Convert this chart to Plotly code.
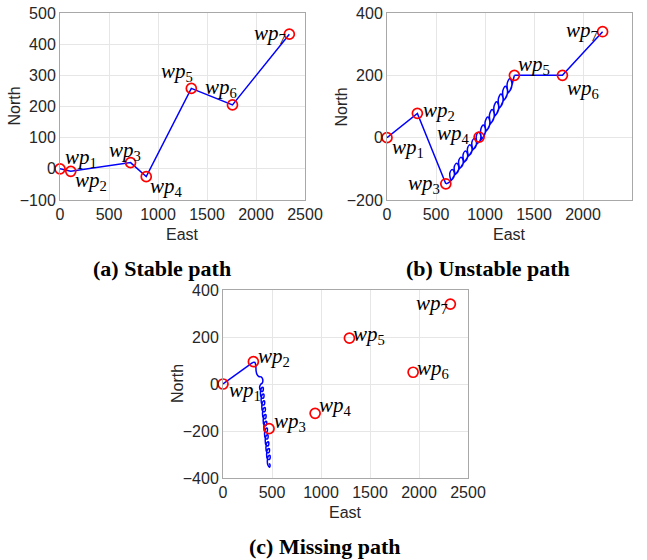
import plotly.graph_objects as go

W, H = 647, 560

# ---------------- data ----------------
# (a) Stable path
wp_a_x = [0, 110, 720, 880, 1340, 1760, 2340]
wp_a_y = [0, -8, 20, -25, 258, 205, 432]
path_a_x = [0, 110, 720, 880, 1340, 1760, 2340]
path_a_y = [0, -8, 20, -25, 258, 205, 432]

# (b) Unstable path
wp_b_x = [0, 310, 600, 940, 1300, 1790, 2200]
wp_b_y = [0, 78, -148, 2, 200, 200, 340]
path_b_start_x = [0, 310, 600]
path_b_start_y = [0, 78, -148]
path_b_loops_x = [600, 625,
                  645, 680, 685, 665, 641, 655,
                  690, 725, 730, 710, 686, 700,
                  735, 770, 775, 755, 731, 745,
                  780, 815, 820, 800, 776, 790,
                  825, 860, 865, 845, 821, 835,
                  870, 905, 910, 890, 866, 880,
                  915, 950, 955, 935, 911, 925,
                  960, 996, 1002, 982, 956, 970,
                  1005, 1041, 1047, 1027, 1001, 1015,
                  1050, 1086, 1092, 1072, 1046, 1060,
                  1095, 1131, 1137, 1117, 1091, 1105,
                  1140, 1176, 1182, 1162, 1136, 1150,
                  1185, 1221, 1227, 1207, 1181, 1195,
                  1230, 1266, 1272, 1252, 1226, 1240,
                  1272, 1288, 1300]
path_b_loops_y = [-148, -145,
                  -140, -128, -110, -102, -114, -136,
                  -120, -108, -90, -82, -94, -116,
                  -101, -89, -71, -63, -75, -97,
                  -81, -69, -51, -43, -55, -77,
                  -61, -49, -31, -23, -35, -57,
                  -41, -29, -11, -3, -15, -37,
                  -21, -9, 9, 17, 5, -17,
                  -7, 9, 31, 41, 25, -3,
                  18, 34, 56, 66, 50, 22,
                  42, 58, 80, 90, 74, 46,
                  67, 83, 105, 115, 99, 71,
                  92, 108, 130, 140, 124, 96,
                  117, 133, 155, 165, 149, 121,
                  141, 157, 179, 189, 173, 145,
                  165, 185, 200]
path_b_end_x = [1300, 1790, 2200]
path_b_end_y = [200, 200, 340]

# (c) Missing path
wp_c_x = [0, 310, 470, 940, 1290, 1940, 2320]
wp_c_y = [0, 95, -190, -125, 195, 50, 340]
path_c_start_x = [0, 150, 305]
path_c_start_y = [0, 45, 92]
path_c_coil_x = [305, 325, 335, 338, 348, 365, 390, 405, 402, 388,
                 375, 383, 407, 409, 391,
                 382, 390, 414, 416, 398,
                 389, 397, 421, 423, 405,
                 396, 404, 428, 430, 412,
                 403, 411, 435, 437, 419,
                 410, 418, 442, 444, 426,
                 417, 425, 449, 451, 433,
                 424, 432, 456, 458, 440,
                 431, 439, 463, 465, 447,
                 438, 446, 470, 472, 454,
                 445, 453, 477, 479, 461,
                 452, 460, 474, 480, 472]
path_c_coil_y = [92, 92, 75, 55, 40, 32, 30, 20, 5, 0,
                 -10, -28, -30, -14, -18,
                 -39, -57, -59, -43, -47,
                 -68, -86, -88, -72, -76,
                 -97, -115, -117, -101, -105,
                 -126, -144, -146, -130, -134,
                 -155, -173, -175, -159, -163,
                 -184, -202, -204, -188, -192,
                 -213, -231, -233, -217, -221,
                 -242, -260, -262, -246, -250,
                 -271, -289, -291, -275, -279,
                 -300, -318, -320, -304, -308,
                 -329, -347, -354, -345, -338]

wp_labels = ["1", "2", "3", "4", "5", "6", "7"]
x_ticks = [0, 500, 1000, 1500, 2000, 2500]
y_ticks_a = [-100, 0, 100, 200, 300, 400, 500]
y_ticks_b = [-200, 0, 200, 400]
y_ticks_c = [-400, -200, 0, 200, 400]
captions = ["(a) Stable path", "(b) Unstable path", "(c) Missing path"]

# ---------------- styling ----------------
BLUE = "#0000ff"
RED = "#ff0000"
SANS = "Liberation Sans, Arial, sans-serif"
TICKFONT = dict(family=SANS, size=16, color="#262626")
LABELFONT = dict(family="Liberation Serif, Times New Roman, serif", size=21, color="#000000")


def px_dom(a, b, total):
    return [a / total, b / total]


def py_dom(top, bottom):
    return [1 - bottom / H, 1 - top / H]


panels = {
    "a": dict(xd=px_dom(60, 305, W), yd=py_dom(13, 200), yr=[-100, 500], yt=y_ticks_a, ax="x", ay="y"),
    "b": dict(xd=px_dom(387, 632, W), yd=py_dom(13, 200), yr=[-200, 400], yt=y_ticks_b, ax="x2", ay="y2"),
    "c": dict(xd=px_dom(223, 468, W), yd=py_dom(290, 478), yr=[-400, 400], yt=y_ticks_c, ax="x3", ay="y3"),
}

fig = go.Figure()


def line(xs, ys, ax, ay, shape="linear"):
    fig.add_trace(go.Scatter(x=xs, y=ys, mode="lines", xaxis=ax, yaxis=ay,
                             line=dict(color=BLUE, width=1.5, shape=shape, smoothing=1.0),
                             cliponaxis=False, showlegend=False, hoverinfo="skip"))


def wps(xs, ys, ax, ay):
    fig.add_trace(go.Scatter(x=xs, y=ys, mode="markers", xaxis=ax, yaxis=ay,
                             marker=dict(symbol="circle-open", size=10, color=RED,
                                         line=dict(color=RED, width=1.7)),
                             cliponaxis=False, showlegend=False, hoverinfo="skip"))


p = panels["a"]
line(path_a_x, path_a_y, p["ax"], p["ay"])
wps(wp_a_x, wp_a_y, p["ax"], p["ay"])

p = panels["b"]
line(path_b_start_x, path_b_start_y, p["ax"], p["ay"])
line(path_b_loops_x, path_b_loops_y, p["ax"], p["ay"], shape="spline")
line(path_b_end_x, path_b_end_y, p["ax"], p["ay"])
wps(wp_b_x, wp_b_y, p["ax"], p["ay"])

p = panels["c"]
line(path_c_start_x, path_c_start_y, p["ax"], p["ay"])
line(path_c_coil_x, path_c_coil_y, p["ax"], p["ay"], shape="spline")
wps(wp_c_x, wp_c_y, p["ax"], p["ay"])

# label placement (anchor, x shift px, y shift px)
label_pos = {
    "a": [("left", 3, 11), ("left", 2, -10), ("center", -6, 12), ("left", 2, -10),
          ("right", 4, 16), ("right", 7, 17), ("right", -1, 0)],
    "b": [("left", 3, -10), ("left", 4, 2), ("right", -4, 0), ("right", -7, 3),
          ("left", 2, 10), ("left", 3, -14), ("right", -3, 1)],
    "c": [("left", 4, -7), ("left", 3, 5), ("left", 3, 7), ("left", 2, 7),
          ("left", 2, 3), ("left", 2, 3), ("right", 0, 0)],
}
wp_sets = {"a": (wp_a_x, wp_a_y), "b": (wp_b_x, wp_b_y), "c": (wp_c_x, wp_c_y)}

annotations = []
for key, p in panels.items():
    xs, ys = wp_sets[key]
    for i, (xa, dx, dy) in enumerate(label_pos[key]):
        annotations.append(dict(x=xs[i], y=ys[i], xref=p["ax"], yref=p["ay"],
                                text="<i>wp</i><sub>" + wp_labels[i] + "</sub>",
                                showarrow=False, xanchor=xa, yanchor="middle",
                                xshift=dx, yshift=dy, font=LABELFONT))
    xc = (p["xd"][0] + p["xd"][1]) / 2
    yc = (p["yd"][0] + p["yd"][1]) / 2
    annotations.append(dict(x=xc, y=p["yd"][0] - 34 / H, xref="paper", yref="paper",
                            text="East", showarrow=False, xanchor="center", yanchor="middle",
                            font=dict(family=SANS, size=16, color="#262626")))
    annotations.append(dict(x=p["xd"][0] - 46 / W, y=yc, xref="paper", yref="paper",
                            text="North", showarrow=False, textangle=-90,
                            xanchor="center", yanchor="middle",
                            font=dict(family=SANS, size=16, color="#262626")))

cap_pos = [(162, 268), (488, 268), (325, 546)]
for text, (cx, cy) in zip(captions, cap_pos):
    annotations.append(dict(x=cx / W, y=1 - cy / H, xref="paper", yref="paper",
                            text="<b>" + text + "</b>", showarrow=False,
                            xanchor="center", yanchor="middle",
                            font=dict(family="Liberation Serif, Times New Roman, serif",
                                      size=22, color="#000000")))

layout = dict(width=W, height=H, margin=dict(l=0, r=0, t=0, b=0),
              paper_bgcolor="white", plot_bgcolor="white",
              annotations=annotations, showlegend=False)

for key, p in panels.items():
    xn = "xaxis" + p["ax"][1:]
    yn = "yaxis" + p["ay"][1:]
    layout[xn] = dict(domain=p["xd"], range=[0, 2500], tickvals=x_ticks,
                      anchor=p["ay"], showgrid=True, gridcolor="#e6e6e6",
                      zeroline=False, showline=True, mirror=True, linecolor="#a8a8a8",
                      linewidth=1, ticks="", tickfont=TICKFONT, fixedrange=True,
                      automargin=False)
    layout[yn] = dict(domain=p["yd"], range=p["yr"], tickvals=p["yt"],
                      anchor=p["ax"], showgrid=True, gridcolor="#e6e6e6",
                      zeroline=False, showline=True, mirror=True, linecolor="#a8a8a8",
                      linewidth=1, ticks="", tickfont=TICKFONT, fixedrange=True,
                      automargin=False)

fig.update_layout(**layout)
fig.write_html("out.html", config={"displayModeBar": False},
               post_script="document.body.style.margin='0px';document.body.style.padding='0px';")
